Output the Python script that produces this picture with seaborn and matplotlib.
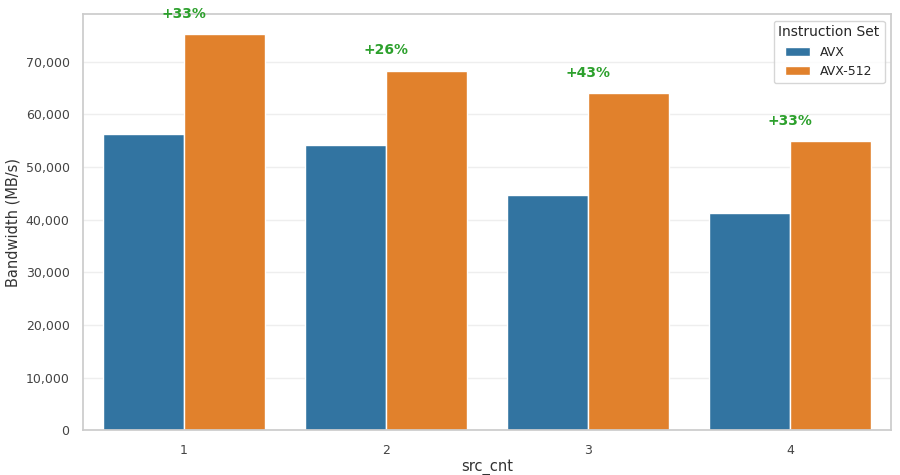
import matplotlib
matplotlib.use("Agg")
import matplotlib.pyplot as plt
import seaborn as sns
import pandas as pd
from matplotlib.ticker import FuncFormatter

src_cnt = [1, 2, 3, 4]
avx = [56300, 54200, 44600, 41300]
avx512 = [75300, 68300, 64000, 54900]
gains = ["+33%", "+26%", "+43%", "+33%"]

df = pd.DataFrame({
    "src_cnt": [str(s) for s in src_cnt] * 2,
    "Bandwidth": avx + avx512,
    "Instruction Set": ["AVX"] * 4 + ["AVX-512"] * 4,
})

sns.set_theme(style="whitegrid")
fig, ax = plt.subplots(figsize=(9, 4.75), dpi=100)
sns.barplot(data=df, x="src_cnt", y="Bandwidth", hue="Instruction Set",
            palette=["#1f77b4", "#ff7f0e"], saturation=0.75, ax=ax)
for i, (g, v) in enumerate(zip(gains, avx512)):
    ax.text(i, v + 2500, g, ha="center", va="bottom", color="#2ca02c",
            fontweight="bold", fontsize=10)
ax.set_ylim(0, 79000)
ax.yaxis.set_major_formatter(FuncFormatter(lambda v, p: f"{int(v):,}"))
ax.set_ylabel("Bandwidth (MB/s)", fontsize=10.5, color="#333333")
ax.set_xlabel("src_cnt", fontsize=10.5, color="#333333", labelpad=2)
ax.grid(axis="y", color="#eeeeee")
ax.grid(axis="x", visible=False)
for s in ax.spines.values():
    s.set_color("#cccccc")
ax.tick_params(labelsize=9, colors="#444444")
leg = ax.legend(title="Instruction Set", loc="upper right", fontsize=9, title_fontsize=10)
fig.subplots_adjust(left=0.092, right=0.99, top=0.97, bottom=0.094)
fig.savefig("out.png")
